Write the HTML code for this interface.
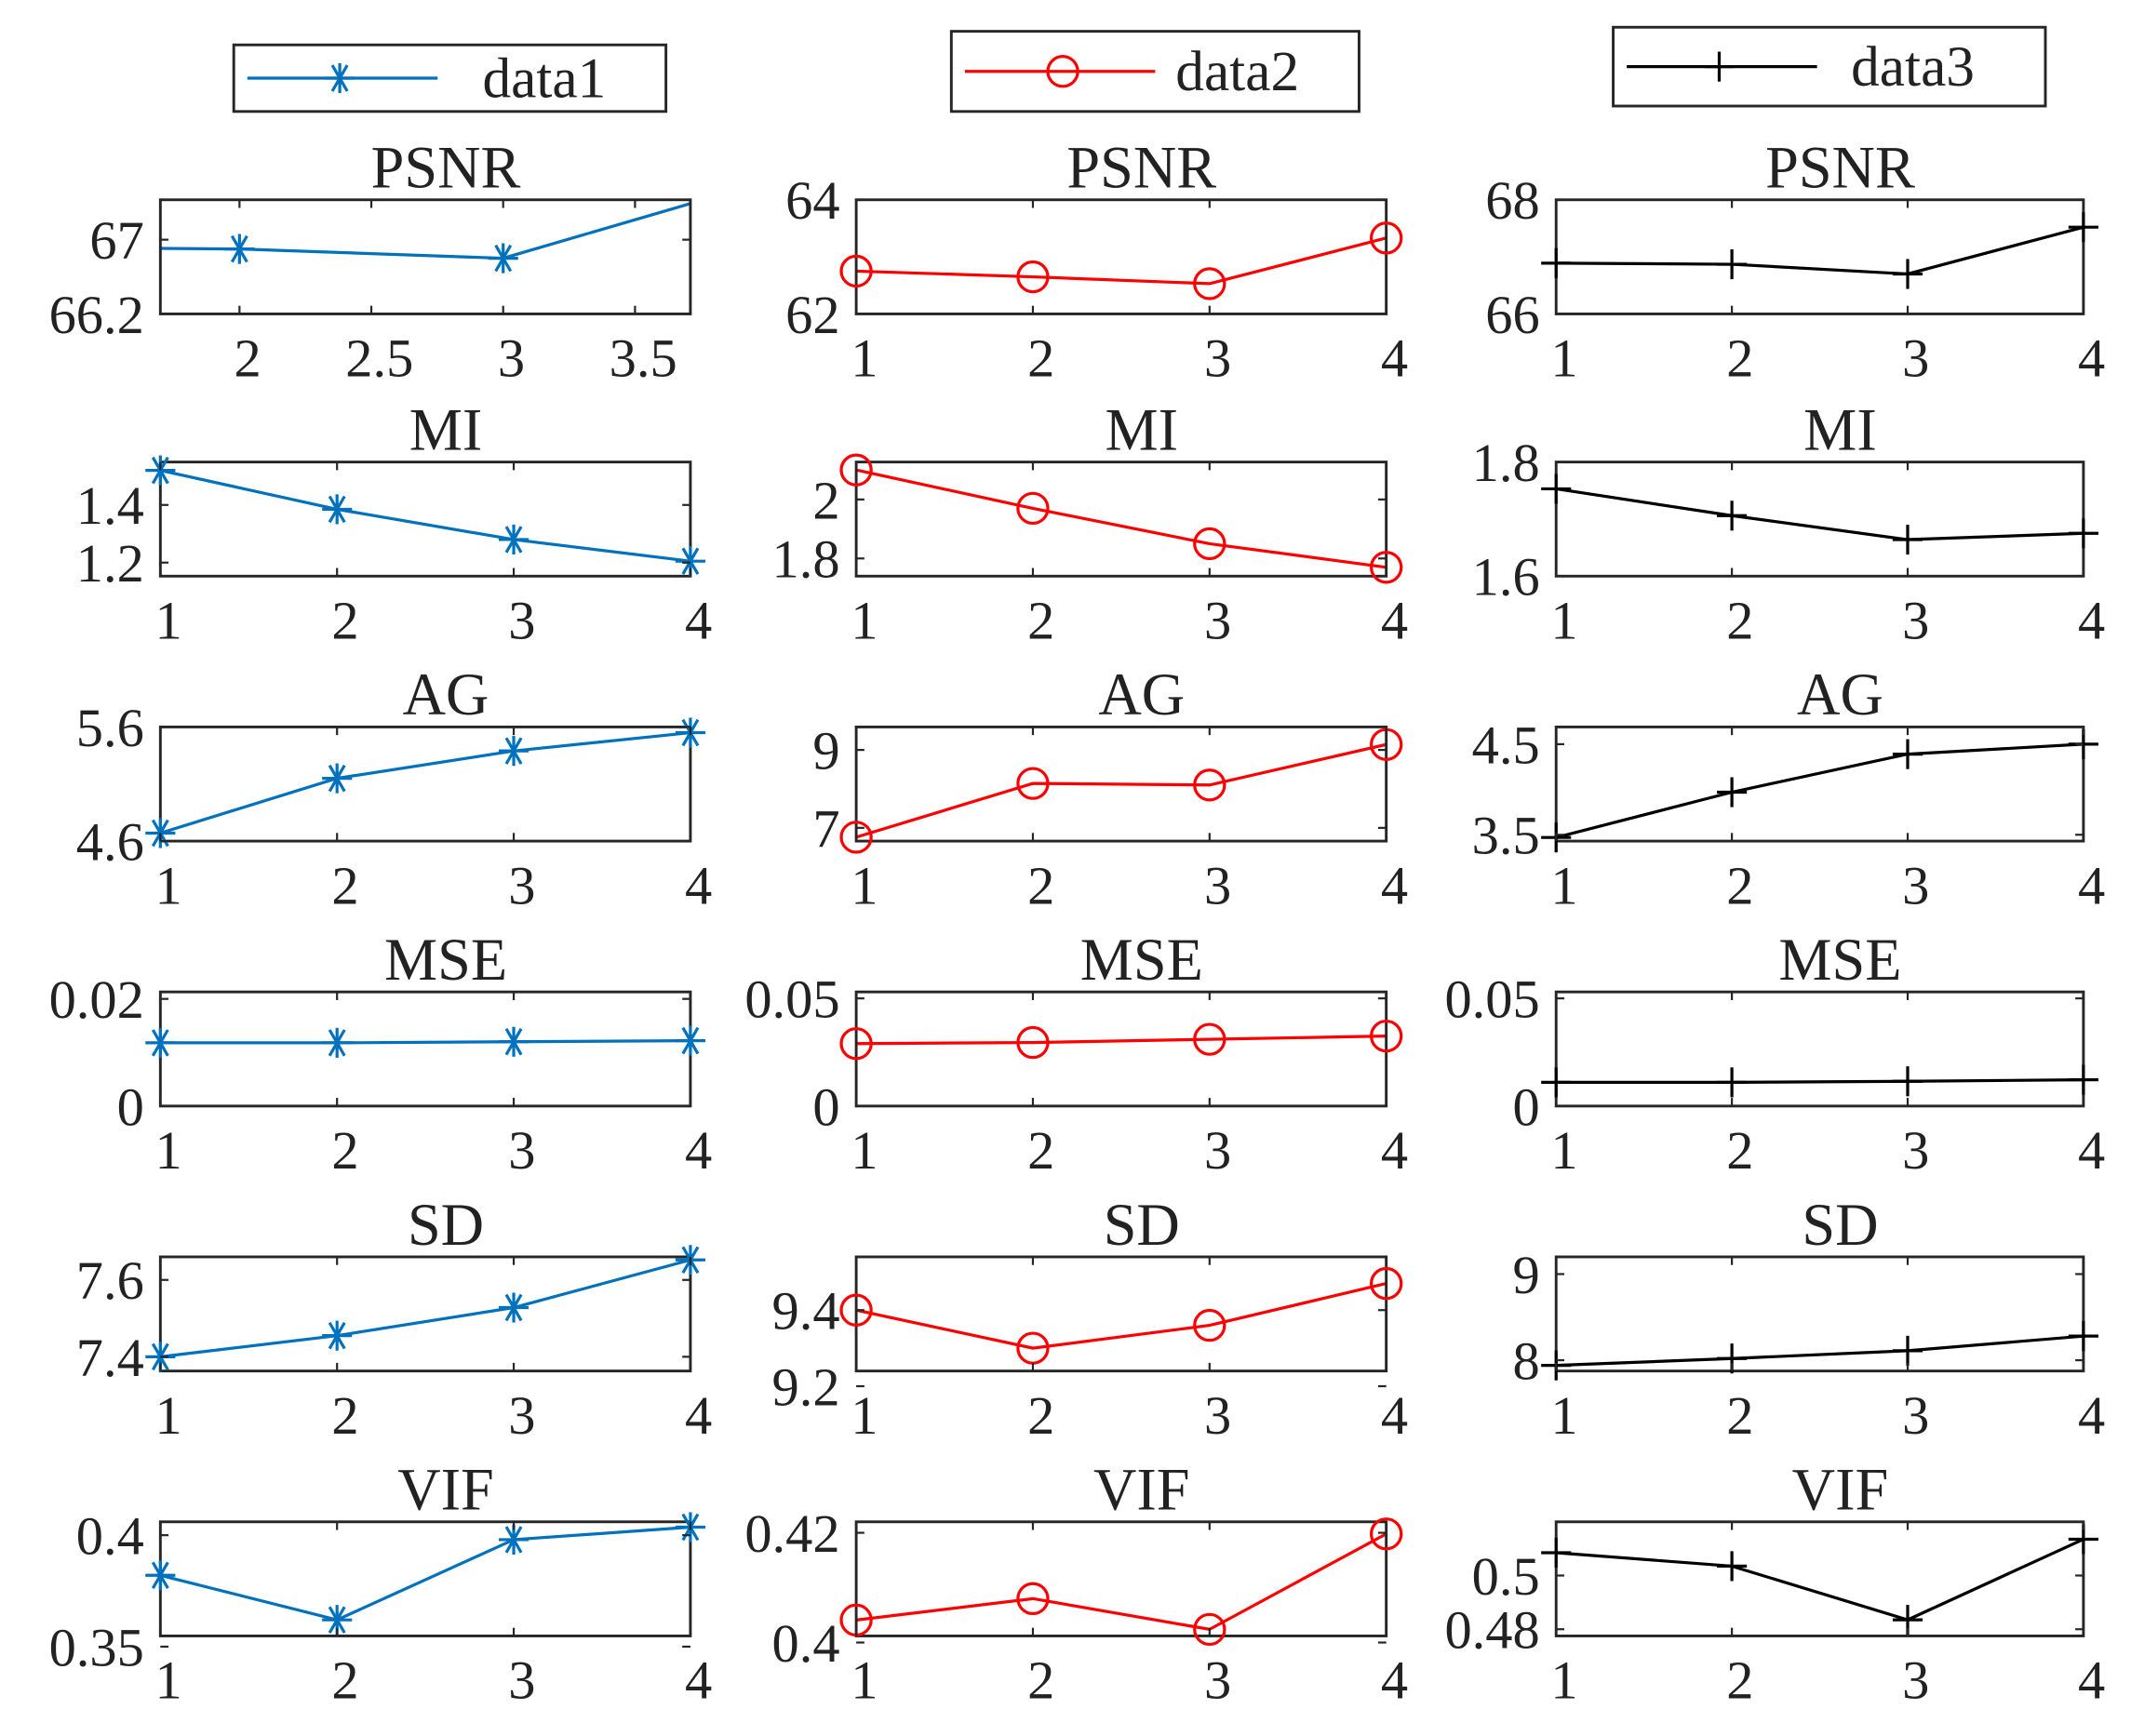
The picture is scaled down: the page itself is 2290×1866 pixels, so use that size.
<!DOCTYPE html>
<html><head><meta charset="utf-8"><style>
html,body{margin:0;padding:0;background:#fff}
svg{display:block}
text{font-family:"Liberation Serif",serif;fill:#222}
</style></head><body>
<svg id="chart" width="2290" height="1866" viewBox="0 0 1568 1277.6" xmlns="http://www.w3.org/2000/svg"></svg>
<script>
const metrics = ["PSNR","MI","AG","MSE","SD","VIF"];
const seriesNames = ["data1","data2","data3"];
const xCats = [1,2,3,4];
const data1 = [[66.92,66.9,66.8,67.63],[1.52,1.385,1.28,1.205],[4.67,5.15,5.39,5.55],[0.0118,0.0118,0.012,0.0122],[7.4,7.455,7.528,7.652],[0.382,0.362,0.398,0.4036]];
const data2 = [[62.75,62.65,62.53,63.33],[2.1,1.97,1.85,1.77],[6.76,8.14,8.1,9.14],[0.029,0.0295,0.031,0.0325],[9.4,9.3,9.36,9.47],[0.4041,0.408,0.4024,0.4198]];
const data3 = [[66.89,66.87,66.7,67.52],[1.753,1.706,1.664,1.675],[3.47,3.97,4.39,4.5],[0.011,0.011,0.0115,0.0122],[7.94,8.02,8.11,8.28],[0.5085,0.5035,0.4835,0.5135]];
const yMin = [[66.2,62,66],[1.153,1.74,1.6],[4.6,6.66,3.43],[0,0,0],[7.363,9.24,7.875],[0.3548,0.4012,0.4775]];
const yMax = [[67.43,64,68],[1.549,2.127,1.8],[5.6,9.59,4.69],[0.0213,0.053,0.053],[7.66,9.54,9.2],[0.406,0.422,0.52]];
const yTicks = [[[66.2,67],[62,64],[66,68]],[[1.2,1.4],[1.8,2],[1.6,1.8]],[[4.6,5.6],[7,9],[3.5,4.5]],[[0,0.02],[0,0.05],[0,0.05]],[[7.4,7.6],[9.2,9.4],[8,9]],[[0.35,0.4],[0.4,0.42],[0.48,0.5]]];
const yTickLabels = [[["66.2","67"],["62","64"],["66","68"]],[["1.2","1.4"],["1.8","2"],["1.6","1.8"]],[["4.6","5.6"],["7","9"],["3.5","4.5"]],[["0","0.02"],["0","0.05"],["0","0.05"]],[["7.4","7.6"],["9.2","9.4"],["8","9"]],[["0.35","0.4"],["0.4","0.42"],["0.48","0.5"]]];
const firstXRange = [1.70,3.71];
const firstXTicks = [2,2.5,3,3.5];

const NS="http://www.w3.org/2000/svg";
const svg=document.getElementById('chart');
function el(t,a,p){const e=document.createElementNS(NS,t);for(const k in a)e.setAttribute(k,a[k]);(p||svg).appendChild(e);return e;}
const colors=["#0072BD","#FF0000","#000000"];
const colX=[[118,508],[630,1020],[1145,1533]];
const rowY=[147,340,535,730,925,1120];
const H=84;
const allData=[data1,data2,data3];

function marker(g,type,x,y,c){
  if(type===0){
    for(const a of [0,60,120]){const r=a*Math.PI/180,s=11;
      el('line',{x1:x-s*Math.cos(r),y1:y-s*Math.sin(r),x2:x+s*Math.cos(r),y2:y+s*Math.sin(r),stroke:c,'stroke-width':2.2},g);}
    el('line',{x1:x,y1:y-11,x2:x,y2:y+11,stroke:c,'stroke-width':2.2},g);
  } else if(type===1){
    el('circle',{cx:x,cy:y,r:11,fill:'none',stroke:c,'stroke-width':2.2},g);
  } else {
    el('line',{x1:x-11,y1:y,x2:x+11,y2:y,stroke:c,'stroke-width':2.2},g);
    el('line',{x1:x,y1:y-11,x2:x,y2:y+11,stroke:c,'stroke-width':2.2},g);
  }
}

for(let r=0;r<6;r++){
  for(let c=0;c<3;c++){
    const g=el('g',{});
    
    
    const [x0,x1]=colX[c]; const y0=rowY[r], y1=y0+H;
    const xr=(r===0&&c===0)?firstXRange:[1,4];
    const xs=v=>x0+(v-xr[0])/(xr[1]-xr[0])*(x1-x0);
    const ys=v=>y1-(v-yMin[r][c])/(yMax[r][c]-yMin[r][c])*H;
    const cid='clip'+r+'_'+c;
    const cp=el('clipPath',{id:cid},g);el('rect',{x:x0,y:y0,width:x1-x0,height:H},cp);
    const vals=allData[c][r];
    const pts=xCats.map((xv,i)=>xs(xv)+','+ys(vals[i])).join(' ');
    const pg=el('g',{'clip-path':'url(#'+cid+')'},g);
    const line=el('polyline',{points:pts,fill:'none',stroke:colors[c],'stroke-width':2.2},pg);
    
    
    const box=el('rect',{x:x0,y:y0,width:x1-x0,height:H,fill:'none',stroke:'#262626','stroke-width':2},g);
    
    
    xCats.forEach((xv,i)=>{const px=xs(xv);if(px<x0-1||px>x1+1)return;marker(g,c,px,ys(vals[i]),colors[c]);});
    const xt=(r===0&&c===0)?firstXTicks:xCats;
    xt.forEach(v=>{const px=xs(v);
      el('line',{x1:px,y1:y1,x2:px,y2:y1-6,stroke:'#262626','stroke-width':1.5},g);
      el('line',{x1:px,y1:y0,x2:px,y2:y0+6,stroke:'#262626','stroke-width':1.5},g);
      const t=el('text',{x:px+6,y:y1+46,'font-size':40,'text-anchor':'middle'},g);t.textContent=String(v);
      
      
    });
    yTicks[r][c].forEach((v,i)=>{const py=ys(v);
      el('line',{x1:x0,y1:py,x2:x0+6,y2:py,stroke:'#262626','stroke-width':1.5},g);
      el('line',{x1:x1,y1:py,x2:x1-6,y2:py,stroke:'#262626','stroke-width':1.5},g);
      const t=el('text',{x:x0-12,y:py+14,'font-size':40,'text-anchor':'end'},g);t.textContent=yTickLabels[r][c][i];
      
      
    });
    const tt=el('text',{x:(x0+x1)/2+15,y:y0-9,'font-size':44,'text-anchor':'middle'},g);tt.textContent=metrics[r];
    
    
  }
}
const legBoxes=[[172,33,318,49,250,355],[700,23,300,59,782,865],[1187,20,318,58,1265,1362]];
legBoxes.forEach((b,i)=>{
  const g=el('g',{});
  
  
  el('rect',{x:b[0],y:b[1],width:b[2],height:b[3],fill:'#fff',stroke:'#262626','stroke-width':2},g);
  const cy=b[1]+b[3]/2;
  el('line',{x1:b[0]+10,y1:cy,x2:b[0]+150,y2:cy,stroke:colors[i],'stroke-width':2.2},g);
  marker(g,i,b[4],cy,colors[i]);
  const t=el('text',{x:b[5],y:cy+14,'font-size':42},g);t.textContent=seriesNames[i];
});
</script>
</body></html>
